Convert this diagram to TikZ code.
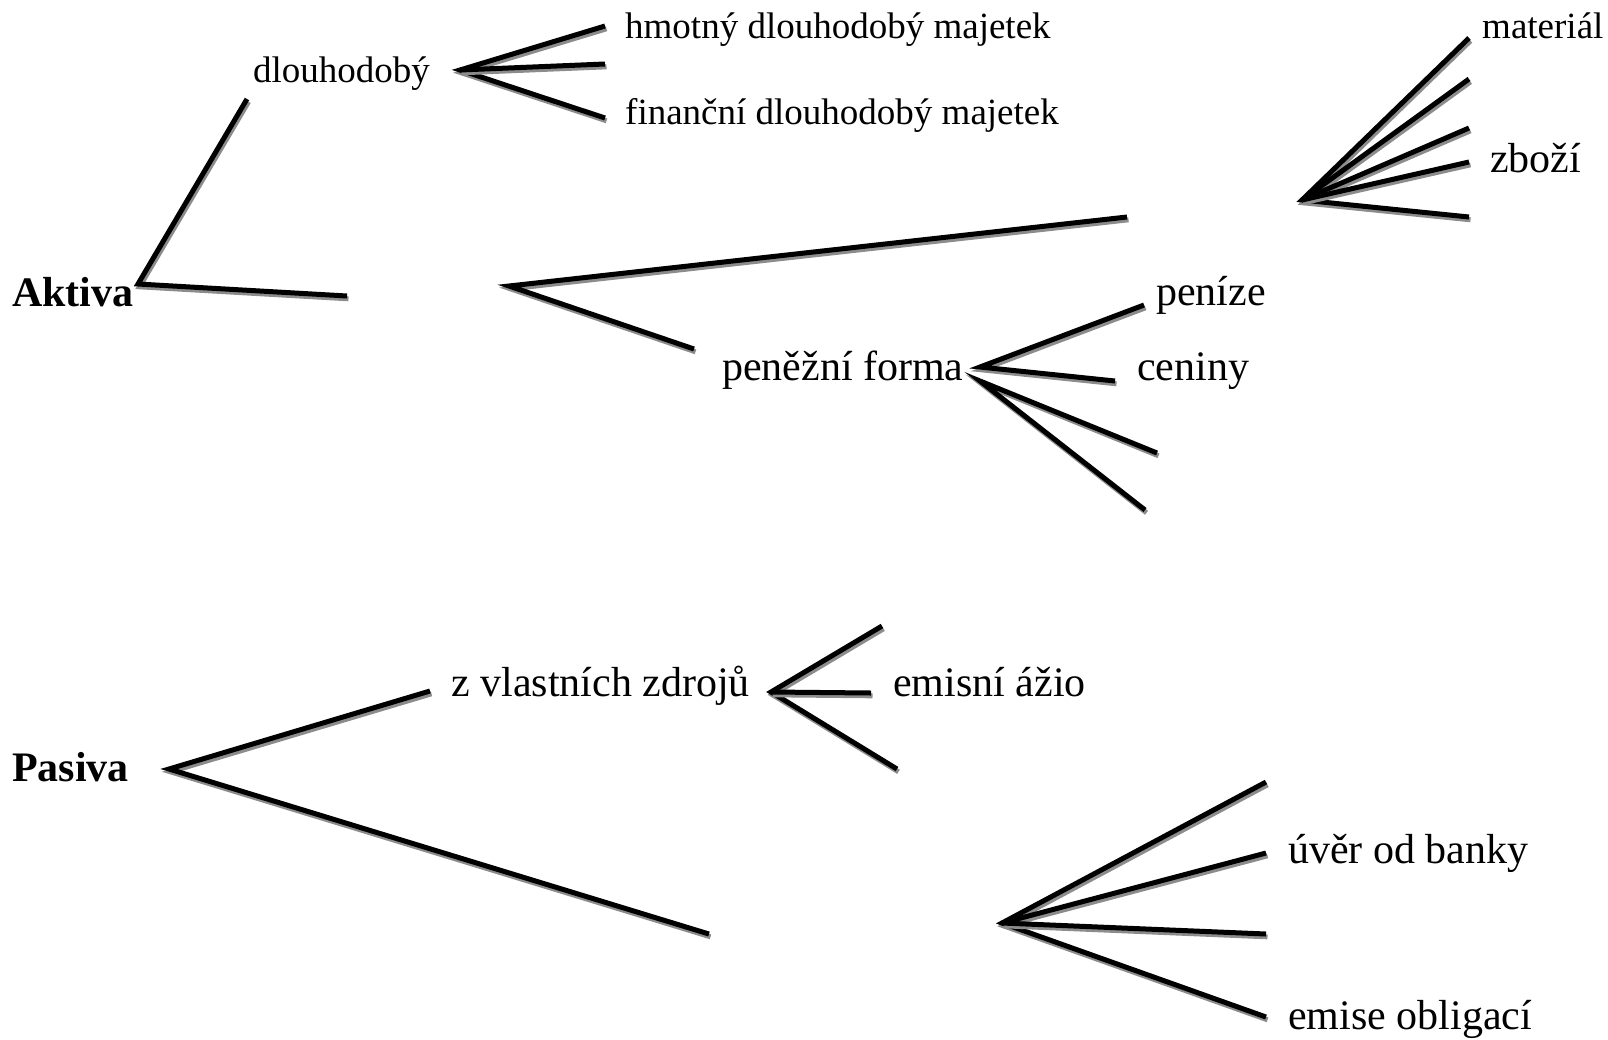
\documentclass[tikz,border=0pt]{standalone}
\usepackage{fontspec}
\newfontfamily\tnr{Liberation Serif}
\begin{document}
\begin{tikzpicture}[x=1pt,y=-1pt,
  lbl/.style={anchor=base west,inner sep=0pt,font=\fontsize{42}{50}\selectfont\tnr},
  lbls/.style={anchor=base west,inner sep=0pt,font=\fontsize{37}{44}\selectfont\tnr},
  root/.style={anchor=base west,inner sep=0pt,font=\fontsize{42}{50}\selectfont\tnr\bfseries},
  br/.style={line width=5pt,black,
    preaction={draw,line width=5pt,color=black!45,transform canvas={xshift=1.5pt,yshift=-2.8pt}}}]
\useasboundingbox (0,0) rectangle (1608,1039);
% texts
\node[root] (aktiva) at (12,306) {Aktiva};
\node[lbls] (dlouh) at (253,82) {dlouhodobý};
\node[lbls] (hmot) at (625,38) {hmotný dlouhodobý majetek};
\node[lbls] (fin) at (625,124) {finanční dlouhodobý majetek};
\node[lbls] (mat) at (1482,38) {materiál};
\node[lbl] (zbozi) at (1490,172) {zboží};
\node[lbl] (penize) at (1156,305) {peníze};
\node[lbl] (penf) at (722,380) {peněžní forma};
\node[lbl] (ceniny) at (1137,380) {ceniny};
\node[root] (pasiva) at (12,781) {Pasiva};
\node[lbl] (zvl) at (451,696) {z vlastních zdrojů};
\node[lbl] (azio) at (893,696) {emisní ážio};
\node[lbl] (uver) at (1288,863) {úvěr od banky};
\node[lbl] (obl) at (1288,1029) {emise obligací};
% points
\coordinate (jA) at (138,284);
\coordinate (a1) at (247,99);
\coordinate (a2) at (347,296);
\coordinate (jD) at (460,70);
\coordinate (d1) at (605,26);
\coordinate (d2) at (605,64);
\coordinate (d3) at (605,118);
\coordinate (jM) at (509,286);
\coordinate (m1) at (1127,217);
\coordinate (m2) at (694,349);
\coordinate (jR) at (1302,200);
\coordinate (r1) at (1469,38);
\coordinate (r2) at (1469,79);
\coordinate (r3) at (1469,128);
\coordinate (r4) at (1469,162);
\coordinate (r5) at (1469,217);
\coordinate (jP) at (980,367);
\coordinate (jP2) at (980,381);
\coordinate (p1) at (1144,305);
\coordinate (p2) at (1115,381);
\coordinate (p3) at (1157,453);
\coordinate (p4) at (1145,510);
\coordinate (jS) at (169,769);
\coordinate (s1) at (430,691);
\coordinate (s2) at (709,934);
\coordinate (jZ) at (771,692);
\coordinate (z1) at (882,626);
\coordinate (z2) at (871,693);
\coordinate (z3) at (897,769);
\coordinate (jC) at (1002,923);
\coordinate (c1) at (1266,782);
\coordinate (c2) at (1266,853);
\coordinate (c3) at (1266,934);
\coordinate (c4) at (1266,1017);
% branches
\draw[br] (a1) -- (jA) -- (a2);
\draw[br] (d1) -- (jD) -- (d3);
\draw[br] (jD) -- (d2);
\draw[br] (m1) -- (jM) -- (m2);
\draw[br] (r1) -- (jR) -- (r5);
\draw[br] (jR) -- (r2);
\draw[br] (jR) -- (r3);
\draw[br] (jR) -- (r4);
\draw[br] (p1) -- (jP) -- (p2);
\draw[br] (p3) -- (jP2) -- (p4);
\draw[br] (s1) -- (jS) -- (s2);
\draw[br] (z1) -- (jZ) -- (z3);
\draw[br] (jZ) -- (z2);
\draw[br] (c1) -- (jC) -- (c4);
\draw[br] (jC) -- (c2);
\draw[br] (jC) -- (c3);
\end{tikzpicture}
\end{document}
